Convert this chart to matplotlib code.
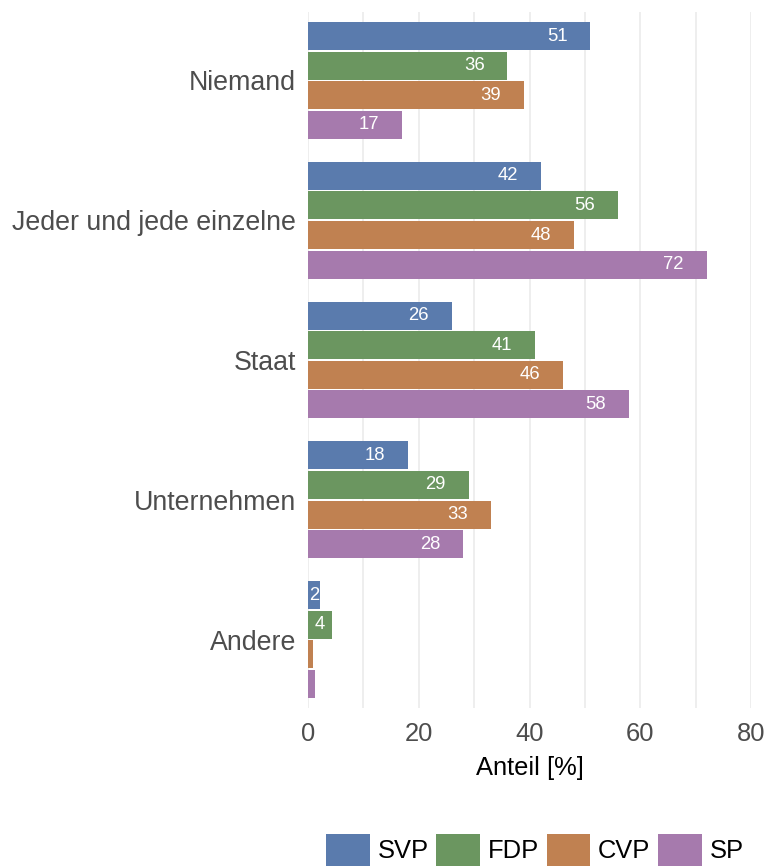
import numpy as np
import matplotlib
matplotlib.use("Agg")
import matplotlib.pyplot as plt
from matplotlib.patches import Patch

plt.rcParams["font.family"] = ["Liberation Sans", "DejaVu Sans"]

# Data
categories = ["Niemand", "Jeder und jede einzelne", "Staat", "Unternehmen", "Andere"]
parties = ["SVP", "FDP", "CVP", "SP"]
svp = [51, 42, 26, 18, 2.2]
fdp = [36, 56, 41, 29, 4.4]
cvp = [39, 48, 46, 33, 0.9]
sp = [17, 72, 58, 28, 1.3]
colors = ["#5a7bad", "#6b9660", "#c08151", "#a67aad"]

series = [svp, fdp, cvp, sp]

fig = plt.figure(figsize=(7.67, 8.66), dpi=100)
ax = fig.add_axes([308/767, 1-708/866, 443/767, 696/866])

slot = 0.212
barh = 0.2
ypos = np.arange(len(categories))
for i, (vals, col) in enumerate(zip(series, colors)):
    y = ypos + (i - 1.5) * slot
    ax.barh(y, vals, height=barh, color=col, zorder=2)
    for yy, v in zip(y, vals):
        if v < 2:
            continue
        xl = v - 6 if v > 12 else v / 2
        ax.text(xl, yy, "%d" % round(v), ha="center", va="center",
                color="white", fontsize=13.3, zorder=3)

ax.set_xlim(0, 80)
ax.set_ylim(4.49, -0.49)
ax.set_xticks([0, 20, 40, 60, 80])
ax.set_xticks([10, 30, 50, 70], minor=True)
ax.set_yticks(ypos)
ax.set_yticklabels(categories)
ax.grid(axis="x", which="both", color="#ebebeb", lw=1.2, zorder=0)
ax.grid(axis="y", visible=False)
for s in ax.spines.values():
    s.set_visible(False)
ax.tick_params(axis="both", which="both", length=0, labelcolor="#4d4d4d")
ax.tick_params(axis="x", labelsize=18.4, pad=10)
ax.tick_params(axis="y", labelsize=19.3, pad=8.5)
ax.set_xlabel("Anteil [%]", fontsize=18.4, color="black", labelpad=7.5)

handles = [Patch(facecolor=c, edgecolor="none", label=p) for p, c in zip(parties, colors)]
fig.legend(handles=handles, loc="lower center", bbox_to_anchor=(535/767, 0), ncol=4,
           frameon=False, fontsize=18.4, handlelength=1.7, handleheight=1.57,
           handletextpad=0.31, columnspacing=0.3, borderpad=0, borderaxespad=0)

fig.savefig("out.png", dpi=100)
